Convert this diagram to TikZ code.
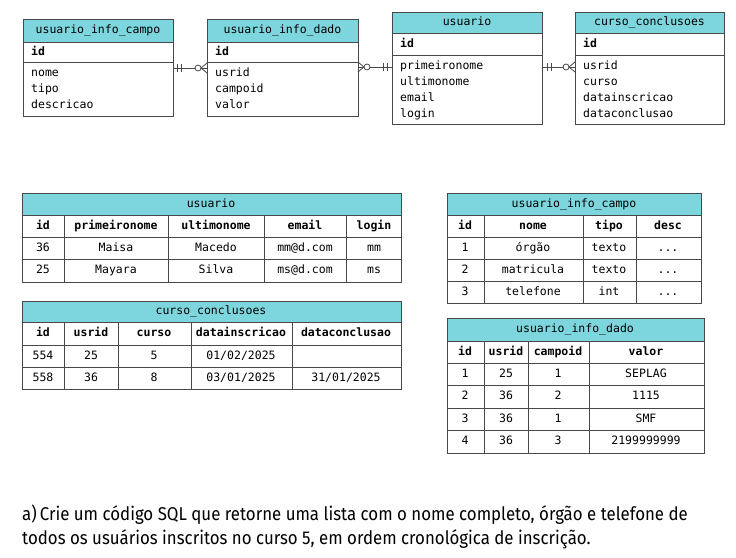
\documentclass[tikz,border=0pt]{standalone}
\usepackage{fontspec}
\setmonofont{DejaVu Sans Mono}
\newfontfamily\questionfont[FakeStretch=0.91]{Fira Sans}
\definecolor{headcyan}{RGB}{125,214,222}
\definecolor{linegray}{RGB}{72,72,72}

\begin{document}
\begin{tikzpicture}[x=1pt,y=-1pt,
  box/.style={draw=linegray, line width=0.9pt},
  head/.style={box, fill=headcyan},
  txt/.style={font=\ttfamily\fontsize{11.5}{13}\selectfont, inner sep=0pt,
    text height=8.5pt, text depth=2.5pt},
  bold/.style={txt, font=\ttfamily\bfseries\fontsize{11.5}{13}\selectfont},
  er line/.style={draw=linegray, line width=0.8pt},
]
  \useasboundingbox[fill=white] (0,0) rectangle (736,557);

  % entity boxes
  \foreach \l/\r/\t/\h/\i/\b/\name/\attrs [count=\e] in {
    23/173/19/42/62/116/usuario\_info\_campo/{nome,tipo,descricao},
    207/358/19/42/62/116/usuario\_info\_dado/{usrid,campoid,valor},
    392/542/12/33/55/124/usuario/{primeironome,ultimonome,email,login},
    575/724/12/33/55/124/curso\_conclusoes/{usrid,curso,datainscricao,dataconclusao}}
  {
    \draw[head] (\l,\t) rectangle (\r,\h);
    \draw[box] (\l,\h) rectangle (\r,\b);
    \draw[box] (\l,\i) -- (\r,\i);
    \node[txt] (er\e) at ({(\l+\r)/2},{(\t+\h)/2}) {\name};
    \node[bold, anchor=west] (er\e id) at (\l+8,{(\h+\i)/2}) {id};
    \foreach \a [count=\k] in \attrs
      \node[txt, anchor=west] (er\e a\k) at (\l+8,\i+16*\k-5) {\a};
  }

  % relations
  \coordinate (c1a) at (173,68); \coordinate (c1b) at (207,68);
  \coordinate (c2a) at (358,67); \coordinate (c2b) at (392,67);
  \coordinate (c3a) at (542,67); \coordinate (c3b) at (575,67);
  \draw[er line] (c1a) -- (c1b);
  \draw[er line] (c2a) -- (c2b);
  \draw[er line] (c3a) -- (c3b);
  \foreach \s in {4,8} {
    \draw[er line] (c1a) ++(\s,-4) -- ++(0,8);
    \draw[er line] (c2b) ++(-\s-1,-4) -- ++(0,8);
    \draw[er line] (c3a) ++(\s+1,-4) -- ++(0,8);
  }
  \draw[er line] (c1b) ++(-6,0) -- ++(6,-5) (c1b) ++(-6,0) -- ++(6,5);
  \draw[er line] (c2a) ++(6,0) -- ++(-6,-5) (c2a) ++(6,0) -- ++(-6,5);
  \draw[er line] (c3b) ++(-6,0) -- ++(6,-5) (c3b) ++(-6,0) -- ++(6,5);
  \draw[er line, fill=white] (c1b) ++(-9,0) circle (3);
  \draw[er line, fill=white] (c2a) ++(9,0) circle (3);
  \draw[er line, fill=white] (c3b) ++(-9,0) circle (3);

  % table usuario
  \draw[head] (22,193) rectangle (401,215);
  \node[txt] (tu) at (211,204) {usuario};
  \draw[box] (22,215) rectangle (401,282);
  \foreach \y in {237,259} \draw[box] (22,\y) -- (401,\y);
  \foreach \x in {64,168,264,346} \draw[box] (\x,215) -- (\x,282);
  \foreach \x/\c [count=\k] in {43/id,116/primeironome,216/ultimonome,305/email,374/login}
    \node[bold] (tu0\k) at (\x,226) {\c};
  \foreach \x/\c [count=\k] in {43/36,116/Maisa,216/Macedo,305/mm@d.com,374/mm}
    \node[txt] (tu1\k) at (\x,248) {\c};
  \foreach \x/\c [count=\k] in {43/25,116/Mayara,216/Silva,305/ms@d.com,374/ms}
    \node[txt] (tu2\k) at (\x,270) {\c};

  % table curso_conclusoes
  \draw[head] (22,301) rectangle (401,322);
  \node[txt] (tc) at (211,311) {curso\_conclusoes};
  \draw[box] (22,322) rectangle (401,389);
  \foreach \y in {345,367} \draw[box] (22,\y) -- (401,\y);
  \foreach \x in {64,118,191,292} \draw[box] (\x,322) -- (\x,389);
  \foreach \x/\c [count=\k] in {43/id,91/usrid,154/curso,241/datainscricao,346/dataconclusao}
    \node[bold] (tc0\k) at (\x,333) {\c};
  \foreach \x/\c [count=\k] in {43/554,91/25,154/5,241/01\slash 02\slash 2025}
    \node[txt] (tc1\k) at (\x,356) {\c};
  \foreach \x/\c [count=\k] in {43/558,91/36,154/8,241/03\slash 01\slash 2025,346/31\slash 01\slash 2025}
    \node[txt] (tc2\k) at (\x,378) {\c};

  % table usuario_info_campo
  \draw[head] (447,193) rectangle (701,215);
  \node[txt] (ti) at (574,204) {usuario\_info\_campo};
  \draw[box] (447,215) rectangle (701,303);
  \foreach \y in {237,259,281} \draw[box] (447,\y) -- (701,\y);
  \foreach \x in {484,583,636} \draw[box] (\x,215) -- (\x,303);
  \foreach \x/\c [count=\k] in {465/id,533/nome,609/tipo,668/desc}
    \node[bold] (ti0\k) at (\x,226) {\c};
  \foreach \x/\c [count=\k] in {465/1,533/órgão,609/texto,668/{...}}
    \node[txt] (ti1\k) at (\x,248) {\c};
  \foreach \x/\c [count=\k] in {465/2,533/matricula,609/texto,668/{...}}
    \node[txt] (ti2\k) at (\x,270) {\c};
  \foreach \x/\c [count=\k] in {465/3,533/telefone,609/int,668/{...}}
    \node[txt] (ti3\k) at (\x,292) {\c};

  % table usuario_info_dado
  \draw[head] (447,318) rectangle (704,341);
  \node[txt] (td) at (575,329) {usuario\_info\_dado};
  \draw[box] (447,341) rectangle (704,453);
  \foreach \y in {363,385,408,430} \draw[box] (447,\y) -- (704,\y);
  \foreach \x in {484,528,589} \draw[box] (\x,341) -- (\x,453);
  \foreach \x/\c [count=\k] in {465/id,506/usrid,558/campoid,646/valor}
    \node[bold] (td0\k) at (\x,352) {\c};
  \foreach \x/\c [count=\k] in {465/1,506/25,558/1,646/SEPLAG}
    \node[txt] (td1\k) at (\x,374) {\c};
  \foreach \x/\c [count=\k] in {465/2,506/36,558/2,646/1115}
    \node[txt] (td2\k) at (\x,396) {\c};
  \foreach \x/\c [count=\k] in {465/3,506/36,558/1,646/SMF}
    \node[txt] (td3\k) at (\x,419) {\c};
  \foreach \x/\c [count=\k] in {465/4,506/36,558/3,646/2199999999}
    \node[txt] (td4\k) at (\x,441) {\c};

  % question
  \node[anchor=base west, align=left, inner sep=0pt,
    font=\questionfont\fontsize{18.5}{24}\selectfont] (q) at (22,544)
    {a)\,Crie um código SQL que retorne uma lista com o nome completo, órgão e telefone de\\
     todos os usuários inscritos no curso 5, em ordem cronológica de inscrição.};
\end{tikzpicture}
\end{document}
